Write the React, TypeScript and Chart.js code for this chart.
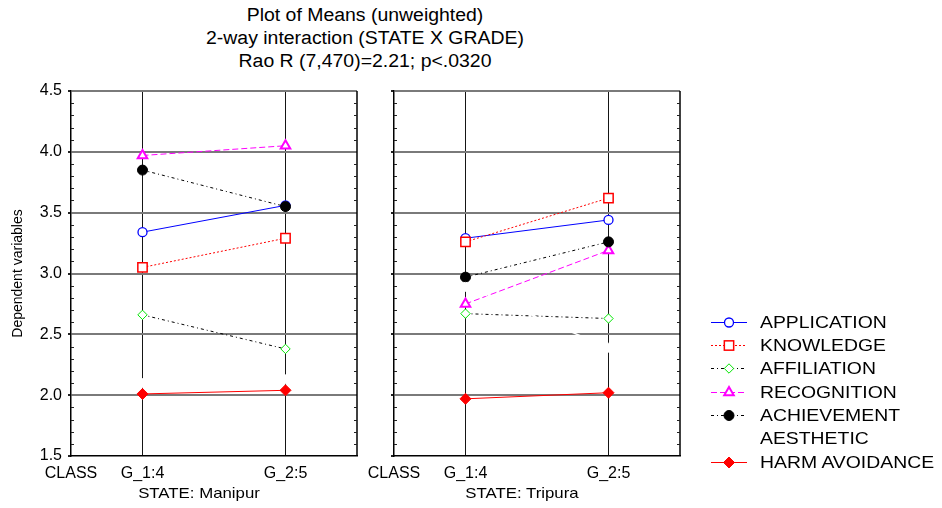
import React, { useEffect, useRef } from 'react';
import { Chart, registerables } from 'chart.js';

Chart.register(...registerables);

const FONT = '"Liberation Sans", Arial, Helvetica, sans-serif';

// ---------- text ----------
const titleLines = [
  'Plot of Means (unweighted)',
  '2-way interaction (STATE X GRADE)',
  'Rao R (7,470)=2.21; p<.0320',
];
const yAxisTitle = 'Dependent variables';
const classLabel = 'CLASS';
const stateLabels = ['STATE: Manipur', 'STATE: Tripura'];

// ---------- categories ----------
const groups = ['G_1:4', 'G_2:5'];
const groupPositions = [1, 3]; // positions on the CLASS axis (0 = CLASS, 4 = end)
const yMin = 1.5;
const yMax = 4.5;
const yStep = 0.5;

const seriesNames = [
  'APPLICATION',
  'KNOWLEDGE',
  'AFFILIATION',
  'RECOGNITION',
  'ACHIEVEMENT',
  'AESTHETIC',
  'HARM AVOIDANCE',
];

// ---------- values: STATE Manipur ----------
const manipurApplication = [3.34, 3.56];
const manipurKnowledge = [3.05, 3.29];
const manipurAffiliation = [2.66, 2.38];
const manipurRecognition = [3.97, 4.05];
const manipurAchievement = [3.85, 3.55];
const manipurAesthetic = [2.1, 2.13];
const manipurHarmAvoidance = [2.01, 2.04];

// ---------- values: STATE Tripura ----------
const tripuraApplication = [3.29, 3.44];
const tripuraKnowledge = [3.26, 3.62];
const tripuraAffiliation = [2.67, 2.63];
const tripuraRecognition = [2.75, 3.19];
const tripuraAchievement = [2.97, 3.26];
const tripuraAesthetic = [2.89, 2.39];
const tripuraHarmAvoidance = [1.97, 2.02];

const manipurValues = [
  manipurApplication,
  manipurKnowledge,
  manipurAffiliation,
  manipurRecognition,
  manipurAchievement,
  manipurAesthetic,
  manipurHarmAvoidance,
];
const tripuraValues = [
  tripuraApplication,
  tripuraKnowledge,
  tripuraAffiliation,
  tripuraRecognition,
  tripuraAchievement,
  tripuraAesthetic,
  tripuraHarmAvoidance,
];

// ---------- styles ----------
type SeriesStyle = {
  line: string;
  lineWidth: number;
  dash: number[];
  point: string;
  radius: number;
  fill: string;
  stroke: string;
  pointWidth: number;
};

const seriesStyles: SeriesStyle[] = [
  { line: '#0000ff', lineWidth: 1, dash: [], point: 'circle', radius: 4.5, fill: '#ffffff', stroke: '#0000ff', pointWidth: 1.3 },
  { line: '#ff0000', lineWidth: 1, dash: [2, 2], point: 'rect', radius: 6.6, fill: '#ffffff', stroke: '#ff0000', pointWidth: 1.5 },
  { line: '#000000', lineWidth: 1, dash: [3, 3, 1, 3], point: 'rectRot', radius: 4.7, fill: '#ffffff', stroke: '#00e600', pointWidth: 1 },
  { line: '#ff00ff', lineWidth: 1, dash: [6, 3], point: 'triangle', radius: 5.5, fill: '#ffffff', stroke: '#ff00ff', pointWidth: 2 },
  { line: '#000000', lineWidth: 1, dash: [3, 3, 1, 3], point: 'circle', radius: 5, fill: '#000000', stroke: '#000000', pointWidth: 1 },
  { line: '#ffffff', lineWidth: 1.5, dash: [], point: 'circle', radius: 4.5, fill: '#ffffff', stroke: '#ffffff', pointWidth: 1 },
  { line: '#ff0000', lineWidth: 1, dash: [], point: 'rectRot', radius: 5.5, fill: '#ff0000', stroke: '#ff0000', pointWidth: 1 },
];

const framePlugin = {
  id: 'panelFrame',
  beforeDatasetsDraw(chart: any) {
    const { ctx, chartArea, scales } = chart;
    const { left, right, top, bottom } = chartArea;
    const y = scales.y;
    ctx.save();
    ctx.strokeStyle = '#000';
    ctx.lineWidth = 1.5;
    ctx.beginPath();
    ctx.moveTo(right, top);
    ctx.lineTo(right, bottom);
    ctx.stroke();
    ctx.lineWidth = 1;
    ctx.strokeStyle = '#222';
    for (let k = 1; k < Math.round((yMax - yMin) * 10); k++) {
      if (k % 5 === 0) continue;
      const py = Math.round(y.getPixelForValue(yMin + k * 0.1)) + 0.5;
      ctx.beginPath();
      ctx.moveTo(left, py);
      ctx.lineTo(left + 3, py);
      ctx.moveTo(right - 3, py);
      ctx.lineTo(right, py);
      ctx.stroke();
    }
    ctx.restore();
  },
};

function makeConfig(values: number[][], showYLabels: boolean, yAxisWidth: number, padRight: number): any {
  return {
    type: 'line',
    data: {
      datasets: seriesNames.map((name, i) => {
        const s = seriesStyles[i];
        return {
          label: name,
          data: groupPositions.map((x, j) => ({ x, y: values[i][j] })),
          borderColor: s.line,
          borderWidth: s.lineWidth,
          borderDash: s.dash,
          pointStyle: s.point,
          pointRadius: s.radius,
          pointBackgroundColor: s.fill,
          pointBorderColor: s.stroke,
          pointBorderWidth: s.pointWidth,
          tension: 0,
          fill: false,
          order: -i,
          clip: false,
        };
      }),
    },
    options: {
      animation: false,
      responsive: false,
      maintainAspectRatio: false,
      layout: { autoPadding: false, padding: { top: 91, right: padRight, left: 0, bottom: 0 } },
      plugins: { legend: { display: false }, title: { display: false }, tooltip: { enabled: false } },
      events: [],
      scales: {
        x: {
          type: 'linear',
          min: 0,
          max: 4,
          afterBuildTicks: (s: any) => {
            s.ticks = [0, ...groupPositions].map((v) => ({ value: v }));
          },
          afterFit: (s: any) => {
            s.height = 52;
            s.paddingLeft = 0;
            s.paddingRight = 0;
          },
          ticks: {
            autoSkip: false,
            maxRotation: 0,
            minRotation: 0,
            padding: 8,
            color: '#000',
            font: { family: FONT, size: 16 },
            callback: (v: number) => (v === 0 ? classLabel : groups[groupPositions.indexOf(v)]),
          },
          grid: {
            drawTicks: false,
            lineWidth: 1,
            color: (c: any) => (c.tick && c.tick.value === 0 ? 'rgba(0,0,0,0)' : '#151515'),
          },
          border: { display: true, color: '#000', width: 1.5 },
        },
        y: {
          type: 'linear',
          min: yMin,
          max: yMax,
          afterFit: (s: any) => {
            s.width = yAxisWidth;
            s.paddingTop = 0;
            s.paddingBottom = 0;
          },
          ticks: {
            display: showYLabels,
            stepSize: yStep,
            padding: 6,
            color: '#000',
            font: { family: FONT, size: 16 },
            callback: (v: number) => v.toFixed(1),
          },
          grid: {
            drawTicks: true,
            tickLength: 3,
            lineWidth: 2,
            color: (c: any) => (c.tick && c.tick.value === yMin ? 'rgba(0,0,0,0)' : '#7a7a7a'),
            tickColor: '#222',
          },
          border: { display: true, color: '#000', width: 1.5 },
          title: {
            display: showYLabels,
            text: yAxisTitle,
            color: '#000',
            font: { family: FONT, size: 14 },
            padding: { top: 10, bottom: 0 },
          },
        },
      },
    },
    plugins: [framePlugin],
  };
}

function LegendSample({ s }: { s: SeriesStyle }) {
  const cx = 18;
  const cy = 11.5;
  let marker: React.ReactNode = null;
  if (s.point === 'circle') {
    marker = <circle cx={cx} cy={cy} r={s.radius} fill={s.fill} stroke={s.stroke} strokeWidth={s.pointWidth} />;
  } else if (s.point === 'rect') {
    const h = s.radius * Math.SQRT1_2;
    marker = <rect x={cx - h} y={cy - h} width={2 * h} height={2 * h} fill={s.fill} stroke={s.stroke} strokeWidth={s.pointWidth} />;
  } else if (s.point === 'rectRot') {
    const r = s.radius;
    marker = (
      <polygon
        points={`${cx},${cy - r} ${cx + r},${cy} ${cx},${cy + r} ${cx - r},${cy}`}
        fill={s.fill}
        stroke={s.stroke}
        strokeWidth={s.pointWidth}
      />
    );
  } else if (s.point === 'triangle') {
    const r = s.radius;
    const dx = r * Math.sin((2 * Math.PI) / 3);
    const dy = r * 0.5;
    marker = (
      <polygon
        points={`${cx},${cy - r} ${cx + dx},${cy + dy} ${cx - dx},${cy + dy}`}
        fill={s.fill}
        stroke={s.stroke}
        strokeWidth={s.pointWidth}
      />
    );
  }
  return (
    <svg width={38} height={23} style={{ position: 'absolute', left: 0, top: 0 }}>
      <line x1={0} y1={cy} x2={36} y2={cy} stroke={s.line} strokeWidth={s.lineWidth} strokeDasharray={s.dash.length ? s.dash.join(' ') : undefined} />
      {marker}
    </svg>
  );
}

export default function App() {
  const leftRef = useRef<HTMLCanvasElement | null>(null);
  const rightRef = useRef<HTMLCanvasElement | null>(null);

  useEffect(() => {
    const c1 = new Chart(leftRef.current as HTMLCanvasElement, makeConfig(manipurValues, true, 71, 3));
    const c2 = new Chart(rightRef.current as HTMLCanvasElement, makeConfig(tripuraValues, false, 34, 262));
    return () => {
      c1.destroy();
      c2.destroy();
    };
  }, []);

  return (
    <div
      style={{
        position: 'absolute',
        left: 0,
        top: 0,
        width: 942,
        height: 508,
        background: '#fff',
        overflow: 'hidden',
        fontFamily: FONT,
        color: '#000',
      }}
    >
      <div
        style={{
          position: 'absolute',
          left: 0,
          top: 4,
          width: 730,
          textAlign: 'center',
          fontSize: 18,
          lineHeight: '23px',
        }}
      >
        {titleLines.map((t) => (
          <div key={t} style={{ transform: 'scaleX(1.08)', transformOrigin: '365px 0' }}>
            {t}
          </div>
        ))}
      </div>
      <canvas ref={leftRef} width={360} height={508} style={{ position: 'absolute', left: 0, top: 0, width: 360, height: 508 }} />
      <canvas ref={rightRef} width={582} height={508} style={{ position: 'absolute', left: 360, top: 0, width: 582, height: 508 }} />
      {stateLabels.map((t, i) => (
        <div
          key={t}
          style={{
            position: 'absolute',
            left: (i === 0 ? 199 : 522) - 100,
            top: 483,
            width: 200,
            textAlign: 'center',
            fontSize: 15,
            lineHeight: '20px',
            transform: 'scaleX(1.12)',
            transformOrigin: '100px 0',
          }}
        >
          {t}
        </div>
      ))}
      {seriesNames.map((name, i) => (
        <div key={name} style={{ position: 'absolute', left: 711, top: 310.5 + i * 23.35, height: 23, width: 231 }}>
          <LegendSample s={seriesStyles[i]} />
          <div
            style={{
              position: 'absolute',
              left: 49,
              top: 0,
              fontSize: 17,
              lineHeight: '23px',
              whiteSpace: 'nowrap',
              transform: 'scaleX(1.14)',
              transformOrigin: '0 0',
            }}
          >
            {name}
          </div>
        </div>
      ))}
    </div>
  );
}
